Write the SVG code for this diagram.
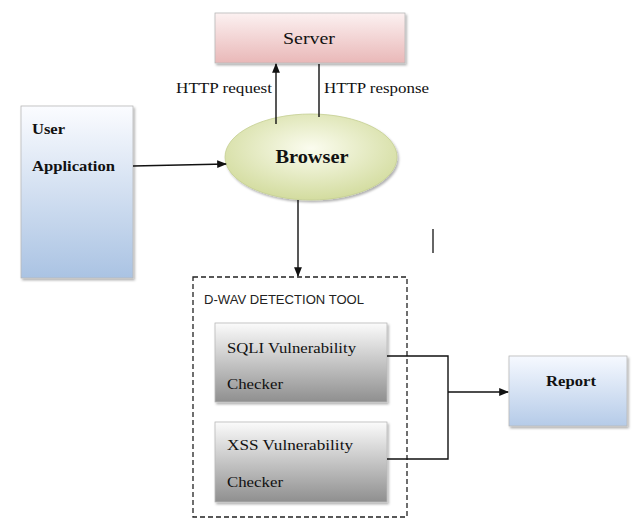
<svg xmlns="http://www.w3.org/2000/svg" width="632" height="520" viewBox="0 0 632 520">
<style>
.t{font-family:"Liberation Serif","Times New Roman",serif;fill:#111;}
.b{font-weight:bold;}
.s{font-family:"Liberation Sans Narrow","Liberation Sans",sans-serif;fill:#222;}
.ln{stroke:#111;stroke-width:1.4;fill:none;}
.box{stroke:#b8b8b8;stroke-width:0.8;}
</style>
<defs>
<linearGradient id="gPink" x1="0" y1="0" x2="0" y2="1"><stop offset="0" stop-color="#fcf1f1"/><stop offset="1" stop-color="#e9b8b8"/></linearGradient>
<linearGradient id="gBlue" x1="0" y1="0" x2="0" y2="1"><stop offset="0" stop-color="#fbfcff"/><stop offset="1" stop-color="#aac3e3"/></linearGradient>
<linearGradient id="gBlue2" x1="0" y1="0" x2="0" y2="1"><stop offset="0" stop-color="#f6f9ff"/><stop offset="1" stop-color="#b5cbe8"/></linearGradient>
<linearGradient id="gGray" x1="0" y1="0" x2="0" y2="1"><stop offset="0" stop-color="#fbfbfb"/><stop offset="1" stop-color="#8f8f8f"/></linearGradient>
<radialGradient id="gGreen" cx="0.5" cy="0.4" r="0.6"><stop offset="0" stop-color="#fbfcef"/><stop offset="1" stop-color="#d3dc9f"/></radialGradient>
<filter id="sh" x="-10%" y="-10%" width="125%" height="125%"><feDropShadow dx="1.5" dy="2" stdDeviation="1.2" flood-color="#000" flood-opacity="0.3"/></filter>
<marker id="ah" viewBox="0 0 10 10" refX="9" refY="5" markerWidth="7" markerHeight="7" orient="auto"><path d="M0,1 L10,5 L0,9 z" fill="#111"/></marker>
</defs>

<g id="server">
<rect x="215" y="13" width="190" height="50" fill="url(#gPink)" class="box" filter="url(#sh)"/>
<text class="t" x="309" y="44" font-size="17" text-anchor="middle" textLength="52" lengthAdjust="spacingAndGlyphs">Server</text>
</g>

<g id="user-application">
<rect x="21" y="106" width="112" height="172" fill="url(#gBlue)" class="box" filter="url(#sh)"/>
<text class="t b" x="32" y="134" font-size="15.5" textLength="33" lengthAdjust="spacingAndGlyphs">User</text>
<text class="t b" x="32" y="171" font-size="15.5" textLength="83" lengthAdjust="spacingAndGlyphs">Application</text>
</g>

<g id="browser">
<ellipse cx="311" cy="157" rx="86" ry="43" fill="url(#gGreen)" stroke="#c5cf93" stroke-width="0.8" filter="url(#sh)"/>
<text class="t b" x="312" y="163" font-size="18.5" text-anchor="middle" textLength="73" lengthAdjust="spacingAndGlyphs">Browser</text>
</g>

<g id="detection-tool">
<rect x="193" y="277" width="214" height="240" fill="none" stroke="#222" stroke-width="1.3" stroke-dasharray="5,3"/>
<text class="s" x="204" y="304" font-size="12.5" textLength="160" lengthAdjust="spacingAndGlyphs">D-WAV DETECTION TOOL</text>
</g>

<g id="sqli-checker">
<rect x="215" y="323" width="172" height="79" fill="url(#gGray)" class="box" filter="url(#sh)"/>
<text class="t" x="227" y="353" font-size="15.5" textLength="129" lengthAdjust="spacingAndGlyphs">SQLI Vulnerability</text>
<text class="t" x="227" y="389" font-size="15.5" textLength="56" lengthAdjust="spacingAndGlyphs">Checker</text>
</g>

<g id="xss-checker">
<rect x="215" y="422" width="172" height="80" fill="url(#gGray)" class="box" filter="url(#sh)"/>
<text class="t" x="227" y="450" font-size="15.5" textLength="126" lengthAdjust="spacingAndGlyphs">XSS Vulnerability</text>
<text class="t" x="227" y="487" font-size="15.5" textLength="56" lengthAdjust="spacingAndGlyphs">Checker</text>
</g>

<g id="report">
<rect x="509" y="356" width="118" height="70" fill="url(#gBlue2)" class="box" filter="url(#sh)"/>
<text class="t b" x="571" y="386" font-size="15.5" text-anchor="middle" textLength="50" lengthAdjust="spacingAndGlyphs">Report</text>
</g>

<g id="connectors">
<line class="ln" x1="276" y1="124" x2="276" y2="64" marker-end="url(#ah)"/>
<line class="ln" x1="319" y1="64" x2="319" y2="117"/>
<line class="ln" x1="133" y1="166" x2="226" y2="164" marker-end="url(#ah)"/>
<line class="ln" x1="298" y1="200" x2="298" y2="276" marker-end="url(#ah)"/>
<polyline class="ln" points="387,356 448,356 448,459 387,459"/>
<line class="ln" x1="448" y1="392" x2="508" y2="392" marker-end="url(#ah)"/>
</g>

<g id="labels">
<text class="t" x="272" y="93" font-size="15" text-anchor="end" textLength="96" lengthAdjust="spacingAndGlyphs">HTTP request</text>
<text class="t" x="324" y="93" font-size="15" textLength="105" lengthAdjust="spacingAndGlyphs">HTTP response</text>
</g>

<line x1="433" y1="229" x2="433" y2="253" stroke="#333" stroke-width="1.5"/>
</svg>
